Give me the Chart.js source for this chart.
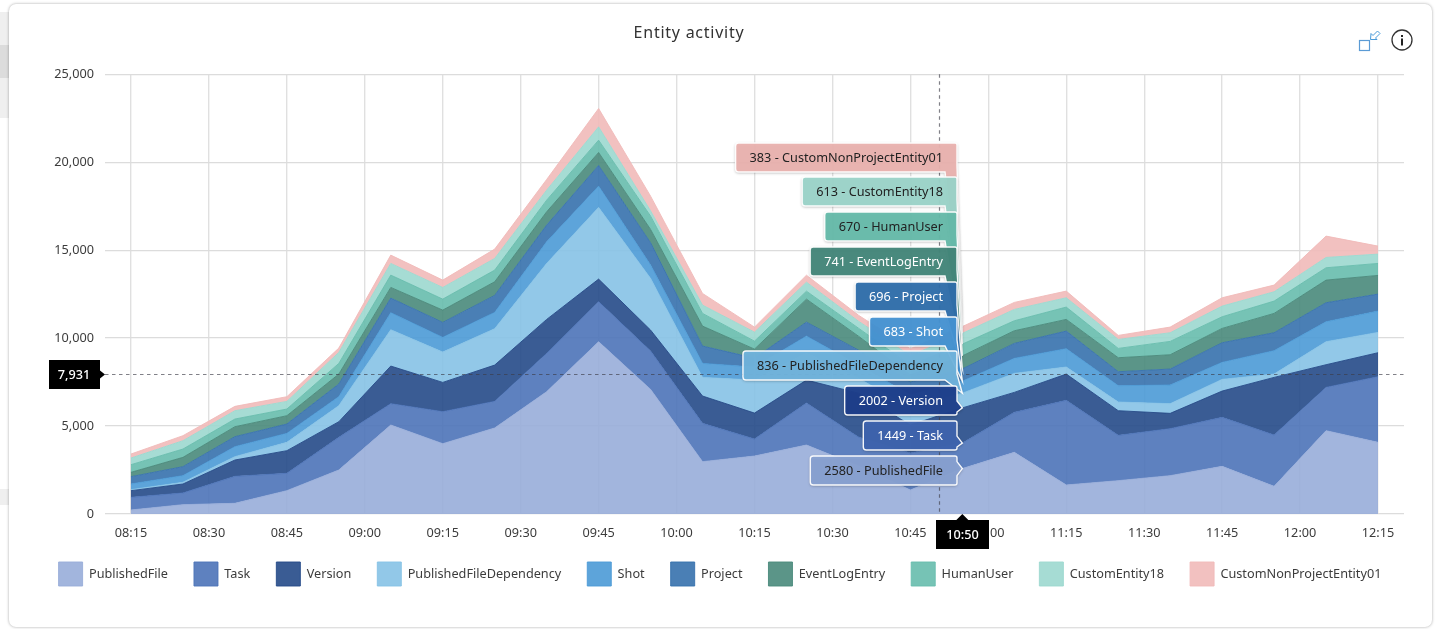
<!DOCTYPE html>
<html>
<head>
<meta charset="utf-8">
<title>Entity activity</title>
<script src="https://cdn.jsdelivr.net/npm/chart.js@4"></script>
<style>
html, body { margin: 0; padding: 0; background: #fff; width: 1440px; height: 629px; overflow: hidden; }
.strip { position: absolute; left: 0; width: 10px; background: #efefef; }
.card { position: absolute; left: 9px; top: 4px; width: 1423px; height: 623px; background: #fff; border-radius: 7px; box-shadow: 0 0 3px rgba(0,0,0,.35); }
.wrap { position: absolute; left: 0; top: 0; width: 1440px; height: 629px; }
.icons { position: absolute; left: 1350px; top: 24px; }
</style>
</head>
<body>
<div class="strip" style="top:12px;height:106px"></div>
<div class="strip" style="top:45px;height:33px;background:#dcdcdc"></div>
<div class="strip" style="top:489px;height:16px"></div>
<div class="card"></div>
<div class="wrap"><canvas id="activityChart"></canvas></div>
<svg class="icons" width="70" height="32" viewBox="0 0 70 32">
  <rect x="9.5" y="16.5" width="10" height="10" fill="none" stroke="#5b9bd5" stroke-width="1.2"/>
  <path d="M20.5 15.5 L21 9.5 L23 11.5 L27.5 7 L30 9.5 L25.5 14 L27 15.5 Z" fill="#fff" stroke="#4a9ad8" stroke-width="1"/>
  <circle cx="52" cy="16" r="10" fill="none" stroke="#333" stroke-width="1.3"/>
  <rect x="51" y="14.5" width="2" height="7" fill="#222"/>
  <rect x="51" y="11" width="2" height="2" fill="#222"/>
</svg>
<script>
// values, one every 10 minutes
const times = ['08:15','08:25','08:35','08:45','08:55','09:05','09:15','09:25','09:35','09:45','09:55','10:05','10:15','10:25','10:35','10:45','10:55','11:05','11:15','11:25','11:35','11:45','11:55','12:05','12:15'];
const tickTimes = ['08:15','08:30','08:45','09:00','09:15','09:30','09:45','10:00','10:15','10:30','10:45','11:00','11:15','11:30','11:45','12:00','12:15'];
const publishedFile = [227,530,606,1326,2500,5057,3996,4887,6951,9792,7084,2974,3294,3919,2726,1363,2580,3504,1648,1894,2178,2708,1572,4735,4072];
const task = [720,663,1534,985,1856,1212,1819,1515,2178,2273,2178,2178,966,2386,1647,2102,1449,2273,4811,2576,2671,2785,2917,2462,3731];
const version = [379,512,928,1288,890,2140,1666,2064,1932,1288,1193,1553,1477,1306,2497,1590,2002,1136,1496,1401,871,1496,3276,1288,1364];
const publishedFileDependency = [57,94,190,473,909,2065,1724,2065,3182,4072,2936,1060,1874,1534,850,965,836,1080,398,493,549,663,190,1307,1155];
const shot = [322,379,568,511,512,966,833,928,1231,1212,757,796,739,965,743,740,683,852,1041,928,1061,966,1326,1136,1212];
const project = [416,512,568,531,720,833,853,966,947,1174,1269,985,511,796,852,740,696,852,1004,795,909,1117,1022,1080,966];
const eventLogEntry = [247,530,568,473,568,606,700,776,758,739,758,1136,511,1306,795,400,741,720,663,796,814,815,1099,1288,1061];
const humanUser = [435,473,436,379,606,701,625,663,662,701,757,720,454,454,455,560,670,568,701,530,758,662,701,701,682];
const customEntity18 = [379,474,473,436,625,663,663,663,569,757,303,473,512,512,397,540,613,644,530,512,492,607,530,587,530];
const customNonProjectEntity01 = [227,284,247,265,246,473,417,530,606,1042,834,663,284,397,341,400,383,398,379,227,322,473,379,1212,455];

const seriesNames = ['PublishedFile','Task','Version','PublishedFileDependency','Shot','Project','EventLogEntry','HumanUser','CustomEntity18','CustomNonProjectEntity01'];
const seriesValues = [publishedFile,task,version,publishedFileDependency,shot,project,eventLogEntry,humanUser,customEntity18,customNonProjectEntity01];
const seriesRgb = ['152,173,217','77,115,184','37,74,136','134,194,229','75,154,214','54,113,173','73,138,123','103,189,173','156,216,207','241,186,185'];
const tagFill = ['#8aa3d3','#3f65b0','#1f3f8c','#72b5de','#4693d4','#2f6fac','#43877a','#66bcab','#9cd5ca','#ebb3b0'];
const tagText = ['#222','#fff','#fff','#222','#fff','#fff','#fff','#222','#222','#222'];

// crosshair as it stands in the screenshot
const hoverIndex = 16;
const hoverLabel = '10:50';
const cursorTime = 650.5;
const cursorValue = 7931;

const font = "'Noto Sans', sans-serif";
const textSize = 12.7;

function toMinutes(t) {
    const p = t.split(':');
    return Number(p[0]) * 60 + Number(p[1]);
}
function toClock(m) {
    const h = Math.floor(m / 60), r = m % 60;
    return String(h).padStart(2, '0') + ':' + String(r).padStart(2, '0');
}

const datasets = seriesNames.map(function (name, i) {
    return {
        label: name,
        data: times.map(function (t, j) { return { x: toMinutes(t), y: seriesValues[i][j] }; }),
        backgroundColor: 'rgba(' + seriesRgb[i] + ',0.9)',
        borderColor: 'rgba(' + seriesRgb[i] + ',0.9)',
        borderWidth: 1,
        fill: i === 0 ? 'origin' : '-1',
        pointRadius: 0,
        tension: 0
    };
});

const layoutTweaks = {
    id: 'layoutTweaks',
    afterLayout: function (chart) {
        // title sits left of centre in the reference and is spaced out a little
        const block = chart.titleBlock;
        block.left = 0;
        block.right = 1378;
        if (!block.spaced) {
            const draw = block.draw;
            block.draw = function () {
                chart.ctx.letterSpacing = '0.75px';
                draw.call(block);
                chart.ctx.letterSpacing = '0px';
            };
            block.spaced = true;
        }
        // x labels get clipped to the scale box, the legend needs it short
        chart.scales.x.bottom = chart.scales.x.top + 40;
    }
};

const hoverOverlay = {
    id: 'hoverOverlay',
    afterDraw: function (chart) {
        const ctx = chart.ctx;
        const xs = chart.scales.x, ys = chart.scales.y;
        const area = chart.chartArea;
        const cx = xs.getPixelForValue(cursorTime);
        const cy = ys.getPixelForValue(cursorValue);
        const px = xs.getPixelForValue(toMinutes(times[hoverIndex]));

        ctx.save();
        ctx.strokeStyle = 'rgba(60,60,70,0.65)';
        ctx.lineWidth = 1.2;
        ctx.setLineDash([3.5, 3.5]);
        ctx.beginPath();
        ctx.moveTo(area.left, Math.round(cy) + 0.5);
        ctx.lineTo(area.right, Math.round(cy) + 0.5);
        ctx.moveTo(Math.round(cx) + 0.5, area.top);
        ctx.lineTo(Math.round(cx) + 0.5, area.bottom);
        ctx.stroke();
        ctx.setLineDash([]);

        // tags, top of the stack first
        ctx.font = textSize + 'px ' + font;
        ctx.textBaseline = 'middle';
        const right = 957, h = 29;
        const tops = [143, 177, 212, 247, 282, 317, 351, 386, 421, 456];
        let sum = 0;
        const tips = seriesValues.map(function (v) {
            sum += v[hoverIndex];
            return ys.getPixelForValue(sum);
        });
        for (let k = seriesNames.length - 1; k >= 0; k--) {
            const top = tops[9 - k];
            const bottom = top + h;
            const text = seriesValues[k][hoverIndex] + ' - ' + seriesNames[k];
            const w = ctx.measureText(text).width + 28;
            const tip = tips[k];

            ctx.globalAlpha = 0.95;
            ctx.shadowColor = 'rgba(0,0,0,0.35)';
            ctx.shadowBlur = 3;
            ctx.shadowOffsetY = 1;
            ctx.fillStyle = tagFill[k];
            ctx.strokeStyle = '#fff';
            ctx.lineWidth = 1.4;
            ctx.beginPath();
            ctx.moveTo(right - w + 3, top);
            ctx.lineTo(right - 2, top);
            ctx.quadraticCurveTo(right, top, right, top + 2);
            if (tip < bottom - 4) {
                const a = Math.max(top + 3, tip - 7), b = Math.min(bottom - 3, tip + 7);
                ctx.lineTo(right, a);
                ctx.lineTo(px, tip);
                ctx.lineTo(right, b);
                ctx.lineTo(right, bottom - 2);
                ctx.quadraticCurveTo(right, bottom, right - 2, bottom);
            } else {
                ctx.lineTo(right, bottom - 6);
                ctx.lineTo(px, tip);
                ctx.lineTo(right - 12, bottom);
            }
            ctx.lineTo(right - w + 3, bottom);
            ctx.quadraticCurveTo(right - w, bottom, right - w, bottom - 3);
            ctx.lineTo(right - w, top + 3);
            ctx.quadraticCurveTo(right - w, top, right - w + 3, top);
            ctx.closePath();
            ctx.fill();
            ctx.shadowColor = 'transparent';
            ctx.stroke();
            ctx.globalAlpha = 1;
            ctx.fillStyle = tagText[k];
            ctx.textAlign = 'right';
            ctx.fillText(text, right - 14, top + h / 2 + 0.5);
        }

        // black value tag on the y axis
        ctx.fillStyle = '#000';
        ctx.beginPath();
        ctx.moveTo(49, cy - 14.5);
        ctx.lineTo(100, cy - 14.5);
        ctx.lineTo(100, cy - 4);
        ctx.lineTo(105, cy);
        ctx.lineTo(100, cy + 4);
        ctx.lineTo(100, cy + 14.5);
        ctx.lineTo(49, cy + 14.5);
        ctx.closePath();
        ctx.fill();
        ctx.fillStyle = '#fff';
        ctx.font = '500 ' + textSize + 'px ' + font;
        ctx.textAlign = 'center';
        ctx.fillText(cursorValue.toLocaleString('en-US'), 74, cy + 0.5);

        // black time tag on the x axis
        ctx.fillStyle = '#000';
        ctx.beginPath();
        ctx.moveTo(px, area.bottom);
        ctx.lineTo(px + 6, 520);
        ctx.lineTo(989, 520);
        ctx.lineTo(989, 549);
        ctx.lineTo(936, 549);
        ctx.lineTo(936, 520);
        ctx.lineTo(px - 6, 520);
        ctx.closePath();
        ctx.fill();
        ctx.fillStyle = '#fff';
        ctx.fillText(hoverLabel, 962.5, 535);
        ctx.restore();
    }
};

new Chart(document.getElementById('activityChart'), {
    type: 'line',
    data: { datasets: datasets },
    plugins: [layoutTweaks, hoverOverlay],
    options: {
        responsive: true,
        maintainAspectRatio: false,
        animation: false,
        events: [],
        layout: { padding: { left: 0, right: 0, top: 0, bottom: 33 } },
        plugins: {
            title: {
                display: true,
                text: 'Entity activity',
                color: '#333',
                font: { size: 16, weight: 'normal', family: font },
                padding: { top: 24, bottom: 31 }
            },
            legend: {
                position: 'bottom',
                labels: {
                    boxWidth: 24,
                    boxHeight: 24,
                    padding: 26,
                    color: '#3c3c3c',
                    font: { size: textSize, family: font }
                }
            },
            tooltip: { enabled: false }
        },
        scales: {
            x: {
                type: 'linear',
                min: 490,
                max: 740,
                afterBuildTicks: function (s) {
                    s.ticks = tickTimes.map(function (t) { return { value: toMinutes(t) }; });
                },
                afterFit: function (s) { s.height = 22; },
                border: { display: false },
                grid: { color: '#e0e0e0', lineWidth: 1.4, drawTicks: false },
                ticks: {
                    autoSkip: false,
                    maxRotation: 0,
                    padding: 12,
                    color: '#3c3c3c',
                    font: { size: textSize, family: font },
                    callback: function (v) { return toClock(v); }
                }
            },
            y: {
                stacked: true,
                min: 0,
                max: 25000,
                afterFit: function (s) { s.width = 105; },
                border: { display: false },
                grid: { color: '#dcdcdc', lineWidth: 1.2, drawTicks: false },
                ticks: {
                    stepSize: 5000,
                    padding: 11,
                    color: '#3c3c3c',
                    font: { size: textSize, family: font },
                    callback: function (v) { return v.toLocaleString('en-US'); }
                }
            },
            // empty axis, keeps the plot off the right edge while the legend stays centred
            gap: {
                type: 'linear',
                position: 'right',
                border: { display: false },
                grid: { display: false },
                ticks: { display: false },
                afterFit: function (s) { s.width = 36; }
            }
        }
    }
});
</script>
</body>
</html>
